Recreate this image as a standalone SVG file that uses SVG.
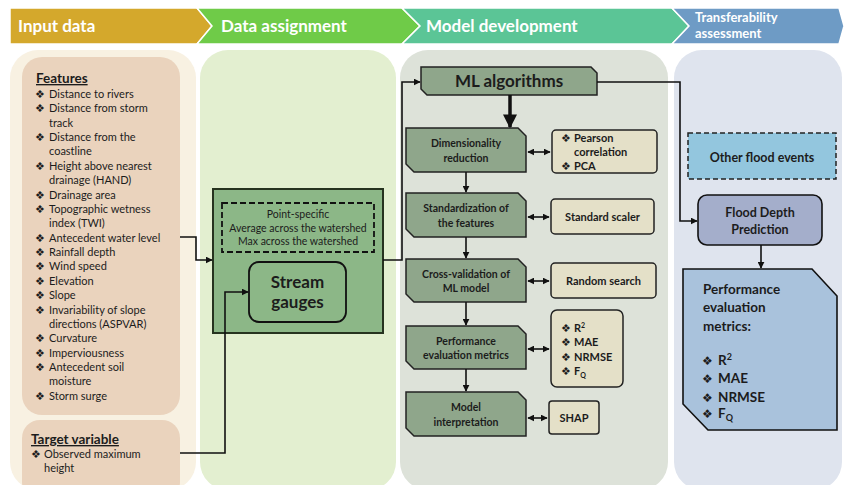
<svg xmlns="http://www.w3.org/2000/svg" width="844" height="485" viewBox="0 0 844 485">
<defs>
<style>
text{font-family:Lato,"Open Sans","Liberation Sans",sans-serif;fill:#1c1c1c}
.hd{fill:#fff;font-weight:bold;font-size:17px}
.it{font-size:11px}
.bu{font-family:"DejaVu Sans",sans-serif;font-size:11px}
.b{font-weight:bold}
.ml{fill:#8FA68B;stroke:#222;stroke-width:1.5}
.bg{fill:#E4E0C8;stroke:#222;stroke-width:1.5}
.ln{fill:none;stroke:#111;stroke-width:1.6}
.c{text-anchor:middle}
</style>
<marker id="ah" viewBox="0 0 10 10" refX="9" refY="5" markerWidth="7" markerHeight="7" markerUnits="userSpaceOnUse" orient="auto-start-reverse"><path d="M0,0L10,5L0,10z" fill="#111"/></marker>
<marker id="ahb" viewBox="0 0 10 10" refX="9" refY="5" markerWidth="14" markerHeight="14" markerUnits="userSpaceOnUse" orient="auto"><path d="M0,0L10,5L0,10z" fill="#111"/></marker>
</defs>
<rect width="844" height="485" fill="#fff"/>
<g id="header">
<polygon points="10,8 197,8 212,26 197,44 10,44" fill="#D4A82C" stroke="#fff" stroke-width="1.5"/>
<polygon points="197,8 402,8 420,26 402,44 197,44 212,26" fill="#6FCB48" stroke="#fff" stroke-width="1.5"/>
<polygon points="402,8 672,8 689,26 672,44 402,44 420,26" fill="#5BC596" stroke="#fff" stroke-width="1.5"/>
<polygon points="672,8 839,8 844,26 839,44 672,44 689,26" fill="#6E9BC5" stroke="#fff" stroke-width="1.5"/>
<text class="hd" x="18" y="32">Input data</text>
<text class="hd" x="221" y="32">Data assignment</text>
<text class="hd" x="426" y="32">Model development</text>
<text class="hd" x="695" y="22" style="font-size:13px">Transferability</text>
<text class="hd" x="695" y="38" style="font-size:13px">assessment</text>
</g>
<g id="columns">
<rect x="10" y="50" width="186" height="440" rx="28" fill="#F8F1E2"/>
<rect x="200" y="50" width="196" height="440" rx="28" fill="#E3EFD0"/>
<rect x="400" y="50" width="268" height="440" rx="28" fill="#DDE2D9"/>
<rect x="674" y="50" width="168" height="440" rx="28" fill="#DFE4EE"/>
</g>
<g id="features">
<rect x="22" y="57" width="158" height="358" rx="20" fill="#EAD3BD"/>
<text x="36" y="83" class="b" style="font-size:13.5px;text-decoration:underline">Features</text>
<text class="bu" x="35" y="98">❖</text><text class="it" x="49" y="98">Distance to rivers</text>
<text class="bu" x="35" y="112">❖</text><text class="it" x="49" y="112">Distance from storm</text>
<text class="it" x="49" y="127">track</text>
<text class="bu" x="35" y="141">❖</text><text class="it" x="49" y="141">Distance from the</text>
<text class="it" x="49" y="155">coastline</text>
<text class="bu" x="35" y="170">❖</text><text class="it" x="49" y="170">Height above nearest</text>
<text class="it" x="49" y="184">drainage (HAND)</text>
<text class="bu" x="35" y="199">❖</text><text class="it" x="49" y="199">Drainage area</text>
<text class="bu" x="35" y="213">❖</text><text class="it" x="49" y="213">Topographic wetness</text>
<text class="it" x="49" y="227">index (TWI)</text>
<text class="bu" x="35" y="242">❖</text><text class="it" x="49" y="242">Antecedent water level</text>
<text class="bu" x="35" y="256">❖</text><text class="it" x="49" y="256">Rainfall depth</text>
<text class="bu" x="35" y="270">❖</text><text class="it" x="49" y="270">Wind speed</text>
<text class="bu" x="35" y="285">❖</text><text class="it" x="49" y="285">Elevation</text>
<text class="bu" x="35" y="299">❖</text><text class="it" x="49" y="299">Slope</text>
<text class="bu" x="35" y="314">❖</text><text class="it" x="49" y="314">Invariability of slope</text>
<text class="it" x="49" y="328">directions (ASPVAR)</text>
<text class="bu" x="35" y="342">❖</text><text class="it" x="49" y="342">Curvature</text>
<text class="bu" x="35" y="357">❖</text><text class="it" x="49" y="357">Imperviousness</text>
<text class="bu" x="35" y="371">❖</text><text class="it" x="49" y="371">Antecedent soil</text>
<text class="it" x="49" y="385">moisture</text>
<text class="bu" x="35" y="400">❖</text><text class="it" x="49" y="400">Storm surge</text>
</g>
<g id="target">
<rect x="22" y="420" width="158" height="80" rx="18" fill="#EAD3BD"/>
<text x="31" y="444" class="b" style="font-size:13.5px;text-decoration:underline">Target variable</text>
<text class="bu" x="31" y="458">❖</text><text class="it" x="44" y="458">Observed maximum</text>
<text class="it" x="44" y="472">height</text>
</g>
<g id="data-assignment">
<rect x="213" y="189" width="170" height="144" fill="#8CB787" stroke="#26331F" stroke-width="2"/>
<rect x="222" y="203" width="152" height="49" fill="none" stroke="#111" stroke-width="1.8" stroke-dasharray="6,3"/>
<text class="c" x="298" y="218" style="font-size:10.5px">Point-specific</text>
<text class="c" x="298" y="231.5" style="font-size:10.5px">Average across the watershed</text>
<text class="c" x="298" y="245" style="font-size:10.5px">Max across the watershed</text>
</g>
<g id="stream-gauges">
<rect x="249" y="262" width="97" height="60" rx="10" fill="#8CB787" stroke="#111" stroke-width="1.8"/>
<text class="c b" x="297.5" y="288" style="font-size:17px">Stream</text>
<text class="c b" x="297.5" y="308" style="font-size:17px">gauges</text>
</g>
<g id="ml-algorithms">
<polygon class="ml" points="421,67 591,67 597,73 597,95 427,95 421,89"/>
<text class="c b" x="509" y="87" style="font-size:17px">ML algorithms</text>
</g>
<g id="dimensionality">
<polygon class="ml" points="406,128 518,128 526,136 526,172 414,172 406,164"/>
<text class="c b" x="466" y="147" style="font-size:10.5px">Dimensionality</text>
<text class="c b" x="466" y="162" style="font-size:10.5px">reduction</text>
</g>
<g id="pearson">
<rect class="bg" x="552" y="130" width="105" height="43" rx="4"/>
<text class="bu" x="561" y="142">❖</text><text class="b it" x="574" y="142">Pearson</text>
<text class="b it" x="574" y="156">correlation</text>
<text class="bu" x="561" y="170">❖</text><text class="b it" x="574" y="170">PCA</text>
</g>
<g id="standardization">
<polygon class="ml" points="406,193 518,193 526,201 526,237 414,237 406,229"/>
<text class="c b" x="466" y="212" style="font-size:10.5px">Standardization of</text>
<text class="c b" x="466" y="227" style="font-size:10.5px">the features</text>
</g>
<g id="standard-scaler">
<rect class="bg" x="551" y="199" width="103" height="35" rx="4"/>
<text class="c b it" x="602.5" y="221">Standard scaler</text>
</g>
<g id="cross-validation">
<polygon class="ml" points="406,259 518,259 526,267 526,302 414,302 406,294"/>
<text class="c b" x="466" y="278" style="font-size:10.5px">Cross-validation of</text>
<text class="c b" x="466" y="292" style="font-size:10.5px">ML model</text>
</g>
<g id="random-search">
<rect class="bg" x="551" y="263" width="105" height="35" rx="4"/>
<text class="c b it" x="603.5" y="285">Random search</text>
</g>
<g id="performance">
<polygon class="ml" points="406,326 518,326 526,334 526,369 414,369 406,361"/>
<text class="c b" x="466" y="345" style="font-size:10.5px">Performance</text>
<text class="c b" x="466" y="359" style="font-size:10.5px">evaluation metrics</text>
</g>
<g id="metrics">
<rect class="bg" x="551" y="310" width="72" height="77" rx="6"/>
<text class="bu" x="561" y="332">❖</text><text class="b it" x="574" y="332">R<tspan dy="-4" style="font-size:7px">2</tspan></text>
<text class="bu" x="561" y="346">❖</text><text class="b it" x="574" y="346">MAE</text>
<text class="bu" x="561" y="361">❖</text><text class="b it" x="574" y="361">NRMSE</text>
<text class="bu" x="561" y="375">❖</text><text class="b it" x="574" y="375">F<tspan dy="3" style="font-size:7px">Q</tspan></text>
</g>
<g id="interpretation">
<polygon class="ml" points="406,392 518,392 526,400 526,436 414,436 406,428"/>
<text class="c b" x="466" y="411" style="font-size:10.5px">Model</text>
<text class="c b" x="466" y="426" style="font-size:10.5px">interpretation</text>
</g>
<g id="shap">
<rect class="bg" x="549" y="401" width="50" height="33" rx="3"/>
<text class="c b it" x="574" y="422">SHAP</text>
</g>
<g id="other-flood-events">
<rect x="688" y="133" width="148" height="46" fill="#93C6DE" stroke="#222" stroke-width="1.5" stroke-dasharray="5,3"/>
<text class="c b" x="762" y="161.5" style="font-size:12.5px">Other flood events</text>
</g>
<g id="flood-depth">
<rect x="698" y="195" width="124" height="50" rx="9" fill="#A4AECB" stroke="#111" stroke-width="1.6"/>
<text class="c b" x="760" y="216.5" style="font-size:12.5px">Flood Depth</text>
<text class="c b" x="760" y="233.5" style="font-size:12.5px">Prediction</text>
</g>
<g id="transfer-metrics">
<polygon points="683,269 812,269 837,296 837,430 708,430 683,404" fill="#A9C2DC" stroke="#111" stroke-width="1.6"/>
<g class="b" style="font-size:13.5px">
<text x="703" y="294">Performance</text>
<text x="703" y="312">evaluation</text>
<text x="703" y="331">metrics:</text>
<text class="bu" x="702" y="365" style="font-size:12px;font-weight:normal">❖</text><text x="718" y="365">R<tspan dy="-5" style="font-size:9px">2</tspan></text>
<text class="bu" x="702" y="383" style="font-size:12px;font-weight:normal">❖</text><text x="718" y="383">MAE</text>
<text class="bu" x="702" y="402" style="font-size:12px;font-weight:normal">❖</text><text x="718" y="402">NRMSE</text>
<text class="bu" x="702" y="418" style="font-size:12px;font-weight:normal">❖</text><text x="718" y="418">F<tspan dy="3" style="font-size:9px">Q</tspan></text>
</g>
</g>
<g id="connectors">
<polyline class="ln" points="180,237 196,237 196,260 212,260" marker-end="url(#ah)"/>
<polyline class="ln" points="180,453 225,453 225,292 248,292" marker-end="url(#ah)"/>
<polyline class="ln" points="383,260 402,260 402,82 420,82" marker-end="url(#ah)"/>
<line x1="510" y1="95" x2="510" y2="127" stroke="#111" stroke-width="3.5" marker-end="url(#ahb)"/>
<polyline class="ln" points="597,82 680,82 680,221 697,221" marker-end="url(#ah)"/>
<line class="ln" x1="466" y1="172" x2="466" y2="192" marker-end="url(#ah)"/>
<line class="ln" x1="466" y1="237" x2="466" y2="258" marker-end="url(#ah)"/>
<line class="ln" x1="466" y1="302" x2="466" y2="325" marker-end="url(#ah)"/>
<line class="ln" x1="466" y1="369" x2="466" y2="391" marker-end="url(#ah)"/>
<line class="ln" x1="528" y1="152" x2="550" y2="152" marker-start="url(#ah)" marker-end="url(#ah)"/>
<line class="ln" x1="528" y1="217" x2="549" y2="217" marker-start="url(#ah)" marker-end="url(#ah)"/>
<line class="ln" x1="528" y1="281" x2="549" y2="281" marker-start="url(#ah)" marker-end="url(#ah)"/>
<line class="ln" x1="528" y1="349" x2="549" y2="349" marker-start="url(#ah)" marker-end="url(#ah)"/>
<line class="ln" x1="528" y1="418" x2="547" y2="418" marker-start="url(#ah)" marker-end="url(#ah)"/>
<line class="ln" x1="761" y1="245" x2="761" y2="268" marker-end="url(#ah)"/>
</g>
</svg>
